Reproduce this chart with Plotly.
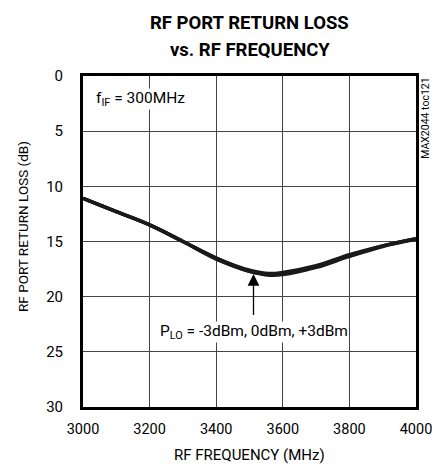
import plotly.graph_objects as go

freq = [3000, 3100, 3200, 3300, 3400, 3500, 3560, 3600, 3700, 3800, 3900, 4000]
loss_m3 = [11.1, 12.3, 13.5, 15.0, 16.5, 17.6, 17.9, 17.8, 17.2, 16.2, 15.4, 14.75]
loss_0 = [11.1, 12.3, 13.5, 15.0, 16.5, 17.7, 18.0, 17.9, 17.3, 16.3, 15.4, 14.75]
loss_p3 = [11.1, 12.3, 13.5, 15.0, 16.6, 17.7, 18.05, 18.0, 17.35, 16.35, 15.45, 14.8]

font = "Roboto, Liberation Sans, sans-serif"

fig = go.Figure()
for ys in (loss_m3, loss_0, loss_p3):
    fig.add_trace(go.Scatter(x=freq, y=ys, mode="lines", line=dict(color="#1a1a1a", width=3.5, shape="spline", smoothing=1.0),
                             showlegend=False, hoverinfo="skip"))

fig.add_annotation(x=3512, y=17.85, ax=3512, ay=21.8, xref="x", yref="y", axref="x", ayref="y",
                   text="", showarrow=True, arrowhead=2, arrowsize=1.8, arrowwidth=1.3, arrowcolor="black", standoff=1)
fig.add_annotation(x=3512, y=23.2, xref="x", yref="y", showarrow=False,
                   text="P<sub>LO</sub> = -3dBm, 0dBm, +3dBm", font=dict(size=15.5, color="black", family=font),
                   bgcolor="white", borderpad=0)
fig.add_annotation(x=3036, y=2.1, xref="x", yref="y", xanchor="left", showarrow=False,
                   text="f<sub>IF</sub> = 300MHz", font=dict(size=15.5, color="black", family=font), bgcolor="white",
                   borderpad=0)
fig.add_annotation(x=1.028, y=1.0, xref="paper", yref="paper", xanchor="center", yanchor="top", textangle=-90,
                   showarrow=False, text="MAX2044 toc121", font=dict(size=10.5, color="black", family=font))
# title, two lines
fig.add_annotation(x=0.5, y=1.16, xref="paper", yref="paper", yanchor="middle", showarrow=False,
                   text="<b>RF PORT RETURN LOSS</b>", font=dict(size=18.5, color="black", family=font))
fig.add_annotation(x=0.5, y=1.078, xref="paper", yref="paper", yanchor="middle", showarrow=False,
                   text="<b>vs. RF FREQUENCY</b>", font=dict(size=18.5, color="black", family=font))
# axis titles
fig.add_annotation(x=-0.18, y=0.544, xref="paper", yref="paper", xanchor="center", yanchor="middle", textangle=-90,
                   showarrow=False, text="RF PORT RETURN LOSS (dB)", font=dict(size=13.5, color="black", family=font))
fig.add_annotation(x=0.5, y=-0.145, xref="paper", yref="paper", xanchor="center", yanchor="middle",
                   showarrow=False, text="RF FREQUENCY (MHz)", font=dict(size=15, color="black", family=font))

fig.update_layout(
    width=432, height=464,
    margin=dict(l=83, r=16, t=76, b=57, autoexpand=False),
    paper_bgcolor="white", plot_bgcolor="white",
    font=dict(family=font, color="black", size=16),
)
fig.update_xaxes(range=[3000, 4000], tickvals=[3000, 3200, 3400, 3600, 3800, 4000], showgrid=True,
                 gridcolor="#444", gridwidth=1, showline=True, linecolor="black", linewidth=3, mirror=True,
                 ticks="", zeroline=False, automargin=False, ticklabeloverflow="allow", ticklabelstandoff=7,
                 tickfont=dict(size=14.5))
fig.update_yaxes(range=[30, 0], tickvals=[0, 5, 10, 15, 20, 25, 30], showgrid=True,
                 gridcolor="#444", gridwidth=1, showline=True, linecolor="black", linewidth=3, mirror=True,
                 ticks="", zeroline=False, automargin=False, ticklabeloverflow="allow", ticklabelstandoff=14,
                 tickfont=dict(size=15))

fig.write_html("out.html", post_script="document.body.style.margin='0';",
               config={"displayModeBar": False})
